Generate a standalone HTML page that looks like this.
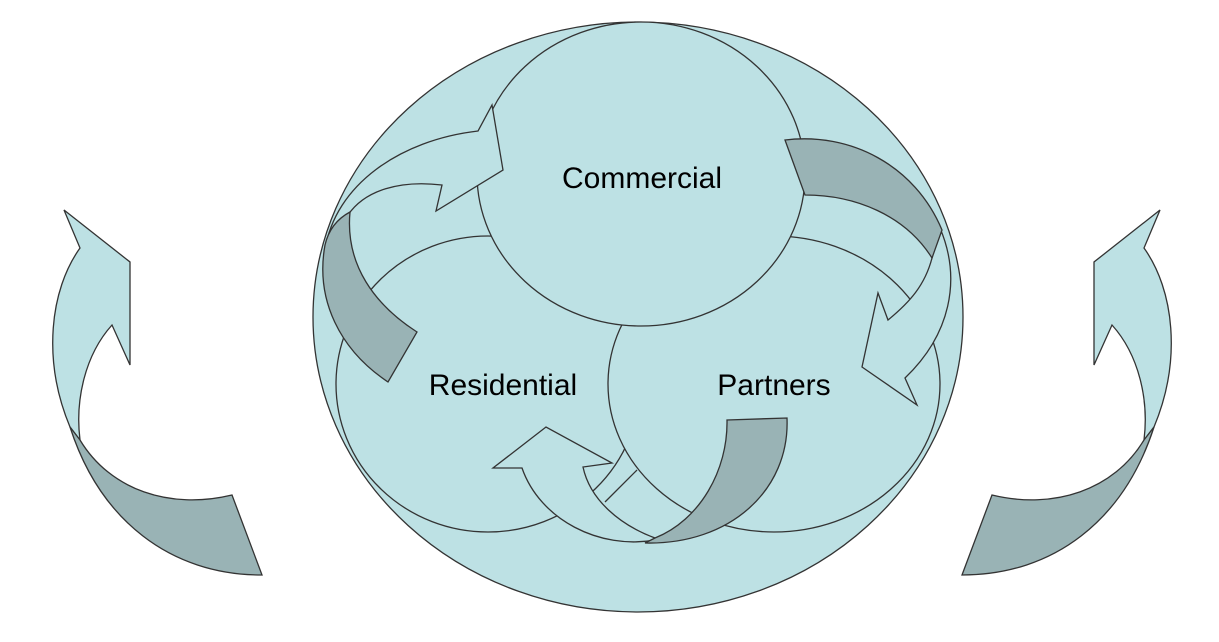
<!DOCTYPE html>
<html><head><style>
html,body{margin:0;padding:0;background:#fff;}
svg{display:block;}
text{font-family:"Liberation Sans",sans-serif;font-size:30px;fill:#000;text-anchor:middle;}
</style></head><body>
<svg width="1219" height="642" viewBox="0 0 1219 642" xmlns="http://www.w3.org/2000/svg">
<g stroke="#333" stroke-width="1.3" fill="#bde1e4">
<ellipse cx="638" cy="317" rx="325" ry="295"/>
<ellipse cx="488" cy="384" rx="152" ry="148"/>
<ellipse cx="774" cy="384" rx="166" ry="148"/>
<ellipse cx="641" cy="174" rx="164" ry="152"/>
<path d="M325 250 C335 185 400 140 478 131 L492 105 L503 170 L436 211 L442 185 C400 180 365 190 348 215 Z"/>
<path fill="#99b3b5" d="M325 245 C315 300 340 350 388 382 L417 332 C375 305 345 265 350 212 C335 220 328 232 325 245 Z"/>
<path d="M940 228 C962 280 950 335 905 378 L917 405 L862 367 L878 293 L888 320 C910 302 925 285 932 258 Z"/>
<path fill="#99b3b5" d="M785 140 C850 132 915 165 942 230 L932 258 C905 215 855 195 805 195 Z"/>
<path d="M655 540 C600 550 540 520 522 468 L493 468 L546 427 L612 463 L583 467 C590 500 620 525 655 538 Z"/>
<line x1="605" y1="502" x2="637" y2="470"/>
<path fill="#99b3b5" d="M727 420 L787 418 C790 490 730 545 645 543 L655 538 C700 520 728 470 727 420 Z"/>
<path d="M70 427 C42 360 50 290 80 248 L64 210 L130 262 L130 365 L112 325 C85 355 75 400 80 440 Z"/>
<path fill="#99b3b5" d="M70 427 C100 520 170 575 262 575 L232 495 C170 510 110 490 80 440 Z"/>
<g transform="translate(1224,0) scale(-1,1)">
<path d="M70 427 C42 360 50 290 80 248 L64 210 L130 262 L130 365 L112 325 C85 355 75 400 80 440 Z"/>
<path fill="#99b3b5" d="M70 427 C100 520 170 575 262 575 L232 495 C170 510 110 490 80 440 Z"/>
</g>
</g>
<text x="642" y="188">Commercial</text>
<text x="503" y="395">Residential</text>
<text x="774" y="395">Partners</text>
</svg>
</body></html>
